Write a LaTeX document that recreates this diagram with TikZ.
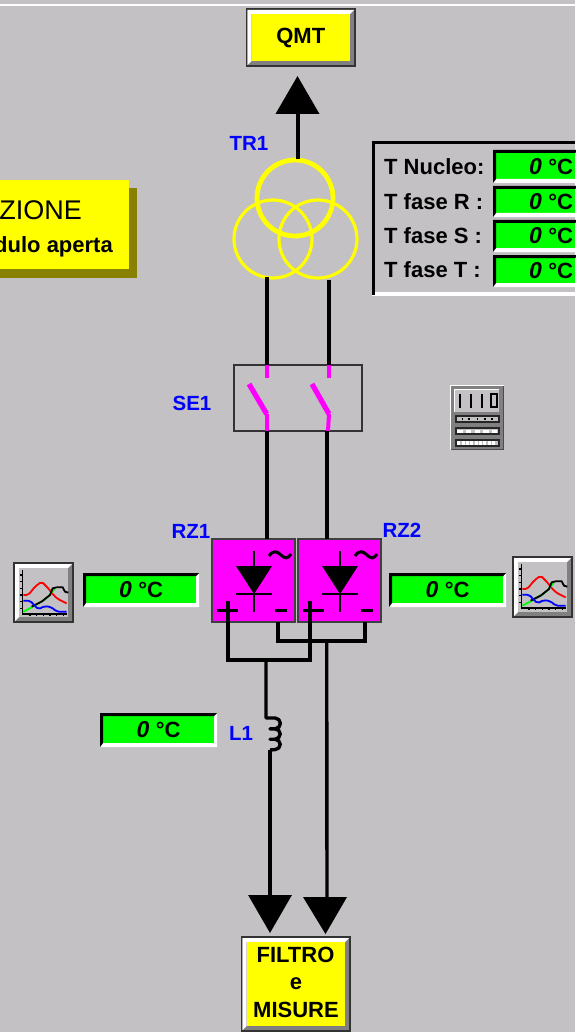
\documentclass[tikz,border=0pt]{standalone}
\usepackage{fontspec}
\setmainfont{Liberation Sans}
\usetikzlibrary{arrows.meta}
\definecolor{bg}{RGB}{195,193,196}
\definecolor{ygreen}{RGB}{0,255,0}
\definecolor{yell}{RGB}{255,255,0}
\definecolor{mag}{RGB}{255,0,255}
\definecolor{olive2}{RGB}{136,128,0}
\definecolor{btn}{RGB}{128,128,128}
\definecolor{lab}{RGB}{0,0,255}
\tikzset{
  wire/.style={black,line width=4pt},
  thinwire/.style={black,line width=3.4pt},
  bigtip/.style={-{Triangle[length=38pt,width=43pt]}},
  bluelab/.style={text=lab,font=\fontsize{20.5}{20.5}\selectfont\bfseries,inner sep=0pt},
  blacklab/.style={text=black,font=\fontsize{22}{22}\selectfont\bfseries,inner sep=0pt},
  valtext/.style={text=black,inner sep=0pt,font=\fontsize{23}{23}\selectfont\bfseries},
  swpink/.style={mag,line width=4pt},
  ringa/.style={circle,draw=yell,line width=3.2pt,minimum size=78pt,inner sep=0pt,outer sep=0pt},
  ringb/.style={circle,draw=yell,line width=4.8pt,minimum size=76pt,inner sep=0pt,outer sep=0pt},
  rect/.style={rectangle,draw=black!75,line width=1.4pt,fill=mag,inner sep=0pt,outer sep=0pt,minimum width=83pt,minimum height=83pt}
}
% bevelled button: name, x1,y1,x2,y2
\newcommand{\bevelbtn}[6]{%
  \node[rectangle,draw=black!80,line width=1.4pt,fill=btn,inner sep=0pt,outer sep=0pt,
        minimum width=#4pt-#2pt,minimum height=#5pt-#3pt,anchor=north west] (#1) at (#2,#3) {};
  \fill[white] (#2+1,#3+1) -- (#4-1,#3+1) -- (#4-5,#3+5) -- (#2+5,#3+5) -- (#2+5,#5-5) -- (#2+1,#5-1) -- cycle;
  \fill[#6] (#2+5,#3+5) rectangle (#4-5,#5-5);
}
% value field: name,x1,y1,x2,y2,text centre x
\newcommand{\valfield}[6]{%
  \node[rectangle,fill=ygreen,inner sep=0pt,outer sep=0pt,minimum width=#4pt-#2pt,minimum height=#5pt-#3pt,anchor=north west] (#1) at (#2,#3) {};
  \fill[white] (#2,#5) -- (#4,#5) -- (#4,#3) -- (#4-3,#3+3) -- (#4-3,#5-4) -- (#2+3,#5-4) -- cycle;
  \fill[black] (#2,#5) -- (#2,#3) -- (#4,#3) -- (#4-3,#3+3) -- (#2+3,#3+3) -- (#2+3,#5-4) -- cycle;
  \node[valtext] (#1t) at (#6,#3/2+#5/2) {\textit{0} \fontsize{22}{22}\selectfont\mdseries\textbf{°C}};
}
% chart icon drawn in zoom units
\newcommand{\charticon}[2]{%
  \begin{scope}[shift={(#1,#2)},x=.3333pt,y=-.3333pt]
    \draw[black,line width=1.6pt] (68,210) -- (68,342) -- (200,342);
    \foreach \t in {225,245,265,285,305,325} \draw[black,line width=1.1pt] (60,\t) -- (68,\t);
    \foreach \t in {90,110,130,150,170,190} \draw[black,line width=1.1pt] (\t,342) -- (\t,348);
    \draw[red,line width=1.8pt,rounded corners=2pt] (70,285) -- (85,285) -- (105,260) -- (125,245) -- (145,265) -- (160,285) -- (175,298) -- (200,310);
    \draw[ygreen,line width=1.8pt,rounded corners=2pt] (70,335) -- (90,325) -- (115,310) -- (140,295) -- (165,265);
    \draw[black,line width=1.8pt] (95,320) -- (125,305) -- (150,285) -- (158,265) -- (170,262) -- (188,262) -- (195,275) -- (205,278);
    \draw[lab,line width=1.8pt,rounded corners=2pt] (70,302) -- (90,302) -- (115,328) -- (135,318) -- (155,322) -- (170,335) -- (200,335);
  \end{scope}
}
% rectifier symbol, origin = left of box
\newcommand{\rectsym}[1]{%
  \begin{scope}[shift={(#1,0)}]
    \draw[black,line width=1.6pt] (254,551) -- (254,612);
    \fill[black] (236,566) -- (272,566) -- (254,594) -- cycle;
    \draw[black,line width=1.6pt] (236,594) -- (272,594);
    \draw[black,line width=3pt] (269,556) .. controls (273,550) and (277,551) .. (281,555) .. controls (285,559) and (288,559) .. (291,554);
    \draw[black,line width=3.4pt] (217,610.5) -- (238,610.5);
    \draw[black,line width=3.4pt] (275,610.5) -- (287,610.5);
  \end{scope}
}
\begin{document}
\begin{tikzpicture}[x=1pt,y=-1pt]
\useasboundingbox (0,0) rectangle (575,1032);
\fill[bg] (0,0) rectangle (575,1032);
\fill[white] (0,4) rectangle (575,6);

% note
\fill[olive2] (0,188) rectangle (137,278);
\node[rectangle,fill=yell,inner sep=0pt,outer sep=0pt,minimum width=129pt,minimum height=89pt,anchor=north west] (note) at (0,180) {};
\begin{scope}
  \clip (0,180) rectangle (129,269);
  \node[anchor=east,inner sep=0pt,font=\fontsize{27}{27}\selectfont] (notea) at (82,210) {ZIONE};
  \node[anchor=east,inner sep=0pt,font=\fontsize{22}{22}\selectfont\bfseries] (noteb) at (113,247) {dulo aperta};
\end{scope}

% QMT and filter buttons
\bevelbtn{qmt}{246.5}{9}{355}{66}{yell}
\node[blacklab] (qmtt) at (qmt.center) {QMT};
\bevelbtn{fil}{241.5}{937}{350}{1031}{yell}
\node[blacklab] (fila) at (295.5,955) {FILTRO};
\node[blacklab] (filb) at (296,984) {e};
\node[blacklab] (filc) at (296,1010) {MISURE};

% transformer
\node[ringa] (tl) at (273,239) {};
\node[ringa] (tr) at (318,239) {};
\node[ringb] (tt) at (295,198) {};
\coordinate (tlo) at (266.7,277);
\coordinate (tro) at (328.7,280);
\coordinate (up) at (297.5,76);
\draw[wire,bigtip] (297.5,159) -- (up);
\node[bluelab] (tr1) at (249,143) {TR1};

% panel
\fill[white] (372,292) rectangle (575,296);
\fill[black] (372,141) rectangle (575,144.5);
\fill[black] (372,141) rectangle (375,295);
\node[blacklab,anchor=west] (pa) at (384,167) {T Nucleo:};
\node[blacklab,anchor=west] (pb) at (384,202) {T fase R :};
\node[blacklab,anchor=west] (pc) at (384,236) {T fase S :};
\node[blacklab,anchor=west] (pd) at (384,270) {T fase T :};
\valfield{fa}{493}{150}{578}{183}{551}
\valfield{fb}{493}{186}{578}{217}{551}
\valfield{fc}{493}{220}{578}{252}{551}
\valfield{fd}{493}{255}{578}{287}{551}

% SE1
\node[rectangle,draw=black!80,line width=1.3pt,inner sep=0pt,outer sep=0pt,minimum width=128pt,minimum height=66pt,anchor=north west] (se1) at (234,365) {};
\node[bluelab] (se1t) at (192,403) {SE1};
\coordinate (sa) at (266.7,365);
\coordinate (sb) at (328.7,365);
\coordinate (sc) at (266.7,431);
\coordinate (sd) at (326.7,431);
\draw[wire] (tlo) -- (sa);
\draw[wire] (tro) -- (sb);
\draw[swpink] (sa) -- (266.7,378);
\draw[swpink] (sb) -- (328.7,378);
\draw[mag,line width=5.2pt] (249,384) -- (266.7,414);
\draw[mag,line width=5.2pt] (312,384) -- (329,414);
\draw[swpink] (266.7,414) -- (sc);
\draw[swpink] (329,414) -- (328,431);

% cabinet icon
\begin{scope}[shift={(160,350)},x=.3333pt,y=-.3333pt]
  \node[rectangle,fill=btn,draw=black!70,line width=1pt,inner sep=0pt,outer sep=0pt,minimum width=53pt,minimum height=64pt,anchor=north west] (cab) at (872,107) {};
  \draw[white,line width=1.5pt] (872,300) -- (872,107) -- (1033,107);
  \fill[bg] (885,118) rectangle (1018,185);
  \draw[white,line width=1pt] (885,185) -- (885,118) -- (1018,118);
  \foreach \t in {900,932,965} \draw[black,line width=2pt] (\t,132) -- (\t,175);
  \draw[black,line width=1.8pt] (993,132) rectangle (1010,170);
  \foreach \a/\b in {195/218,232/255,267/290} {
    \fill[black!85] (885,\a) rectangle (1020,\b);
    \fill[bg] (890,\a+6) rectangle (1015,\b-6);
  }
  \foreach \t in {905,925,950,972,993} \fill[black] (\t,205) rectangle ++(5,5);
  \foreach \t in {892,918,945,970,995} \fill[white] (\t,239) rectangle ++(16,10);
  \foreach \t in {892,905,918,931,944,957,970,983,996} \fill[white] (\t,274) rectangle ++(9,10);
\end{scope}

% rectifiers
\node[rect,anchor=north west] (rz1) at (212,539) {};
\node[rect,anchor=north west] (rz2) at (298,539) {};
\rectsym{0}
\rectsym{86}
\node[bluelab] (rz1t) at (191,531) {RZ1};
\node[bluelab] (rz2t) at (402,530) {RZ2};
\coordinate (ra) at (266.7,539);
\coordinate (rb) at (326.7,539);
\draw[wire] (sc) -- (ra);
\draw[wire] (sd) -- (rb);
\coordinate (p1) at (228,601);
\coordinate (p2) at (310,601);
\coordinate (m1) at (278,622);
\coordinate (m2) at (365,622);
\coordinate (jn) at (266,660);
\coordinate (jp) at (326.7,641);
\draw[thinwire,line join=miter] (p1) -- (228,660) -- (310,660) -- (p2);
\draw[thinwire,line join=miter] (m1) -- (278,641) -- (365,641) -- (m2);

% L1 and outputs
\coordinate (cb) at (270,750);
\coordinate (tipa) at (270,933);
\coordinate (tipb) at (325.5,934);
\draw[thinwire,line join=round] (jn) -- (266,718) -- (275,718)
   arc[start angle=90,end angle=-90,radius=5.4pt] -- (270,728.8) -- (275,728.8)
   arc[start angle=90,end angle=-90,radius=5.2pt] -- (270,739.2) -- (275,739.2)
   arc[start angle=90,end angle=-90,radius=5.2pt] -- (cb);
\draw[thinwire,bigtip] (cb) -- (tipa);
\draw[thinwire] (jp) -- (327,897);
\fill[black] (303,897) -- (347,897) -- (tipb) -- cycle;
\node[bluelab] (l1) at (241,733) {L1};

% side fields
\valfield{fl}{83}{573}{199}{607}{141}
\valfield{fr}{389}{573}{506}{607}{447.5}
\valfield{fi}{100}{713}{217}{747}{158.5}

% chart buttons
\bevelbtn{ca}{14}{563}{73}{622}{bg}
\charticon{0}{500}
\bevelbtn{cb2}{513}{557}{572}{617}{bg}
\charticon{499}{494}
\end{tikzpicture}
\end{document}
